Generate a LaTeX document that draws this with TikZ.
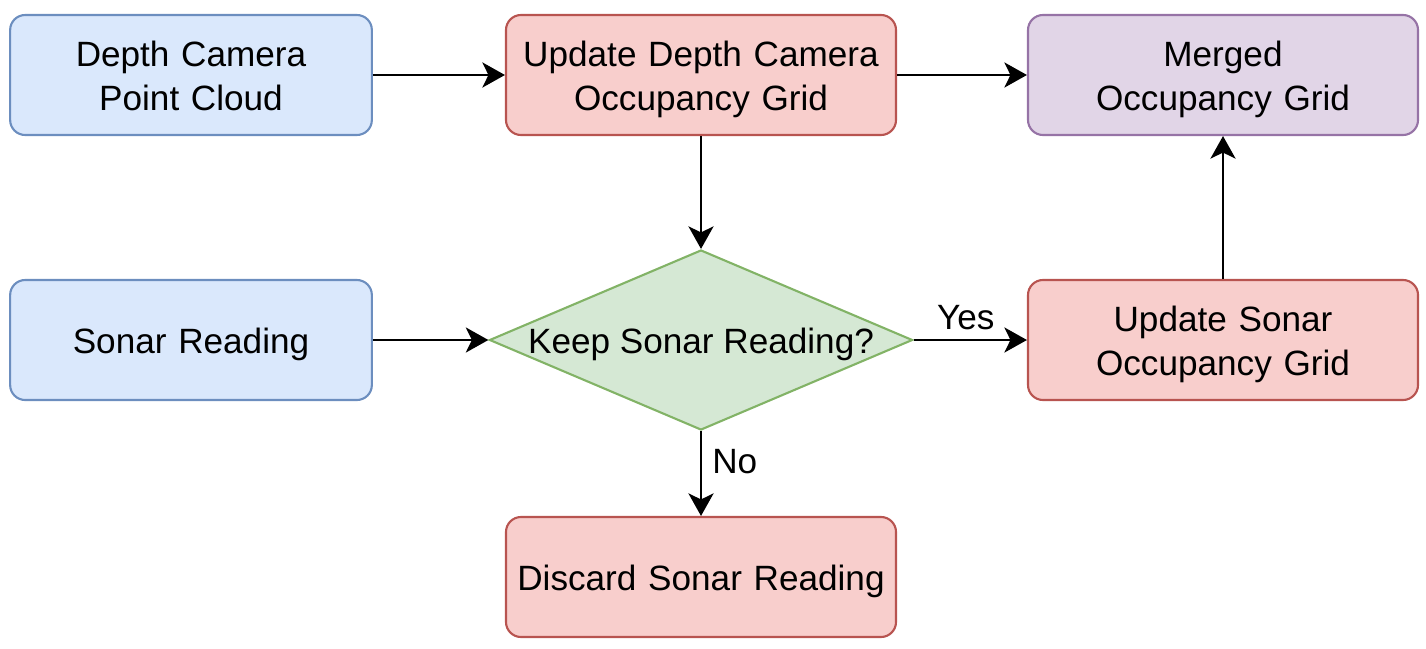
\documentclass[tikz,border=0pt]{standalone}
\usepackage{fontspec}
\usepackage{tikz}
\usepackage{xcolor}
\setmainfont{Liberation Sans}
\usetikzlibrary{shapes.geometric,arrows.meta}

\definecolor{blueFill}{HTML}{DAE8FC}
\definecolor{blueLine}{HTML}{6C8EBF}
\definecolor{redFill}{HTML}{F8CECC}
\definecolor{redLine}{HTML}{B85450}
\definecolor{purpleFill}{HTML}{E1D5E7}
\definecolor{purpleLine}{HTML}{9673A6}
\definecolor{greenFill}{HTML}{D5E8D4}
\definecolor{greenLine}{HTML}{82B366}

\begin{document}
\begin{tikzpicture}[node distance=10.2cm, auto]
    % Styles
    \tikzstyle{block} = [rectangle, draw, line width=1.2pt, text width=7.4cm, align=center, rounded corners=0.3cm, minimum height=2.4cm, text height=20pt, text depth=4.4pt, font=\fontsize{20}{25}\selectfont]
    \tikzstyle{twoline} = [text depth=29.4pt]
    \tikzstyle{input} = [block, fill=blueFill, draw=blueLine, minimum width=7.2cm, text width=7cm]
    \tikzstyle{process} = [block, fill=redFill, draw=redLine, minimum width=7.8cm]
    \tikzstyle{output} = [block, fill=purpleFill, draw=purpleLine, minimum width=7.8cm]
    \tikzstyle{decision} = [diamond, draw=greenLine, fill=greenFill, line width=1.2pt, aspect=2.35, inner xsep=0pt, inner ysep=-0.1cm, minimum width=8.44cm, minimum height=3.6cm, text height=20pt, text depth=4.4pt, font=\fontsize{20}{25}\selectfont]
    \tikzstyle{arrow} = [line width=1.6pt, -{Stealth[length=0.45cm, width=0.5cm, inset=0.12cm]}]
    \tikzstyle{lbl} = [font=\fontsize{20}{25}\selectfont]

    \useasboundingbox (0,0) rectangle (28.52,-12.96);

    % Nodes
    \node [input, twoline] (camera) at (3.82,-1.5) {Depth Camera\\Point Cloud};
    \node [process, twoline, right of=camera] (updcam) {Update Depth Camera\\Occupancy Grid};
    \node [output, twoline, right of=updcam, node distance=10.44cm] (merged) {Merged\\Occupancy Grid};
    \node [input, below of=camera, node distance=5.3cm] (sonar) {Sonar Reading};
    \node [decision, below of=updcam, node distance=5.3cm] (keep) {Keep Sonar Reading?};
    \node [process, twoline, below of=merged, node distance=5.3cm] (updsonar) {Update Sonar\\Occupancy Grid};
    \node [process, below of=keep, node distance=4.74cm] (discard) {Discard Sonar Reading};

    % Arrows
    \draw [arrow] (camera) -- (updcam);
    \draw [arrow] (updcam) -- (merged);
    \draw [arrow] (updcam) -- (keep);
    \draw [arrow] (sonar) -- (keep);
    \draw [arrow] (keep) -- node [lbl, above, pos=0.46, yshift=0.06cm] {Yes} (updsonar);
    \draw [arrow] (keep) -- node [lbl, right, pos=0.36, xshift=0.08cm] {No} (discard);
    \draw [arrow] (updsonar) -- (merged);
\end{tikzpicture}
\end{document}
